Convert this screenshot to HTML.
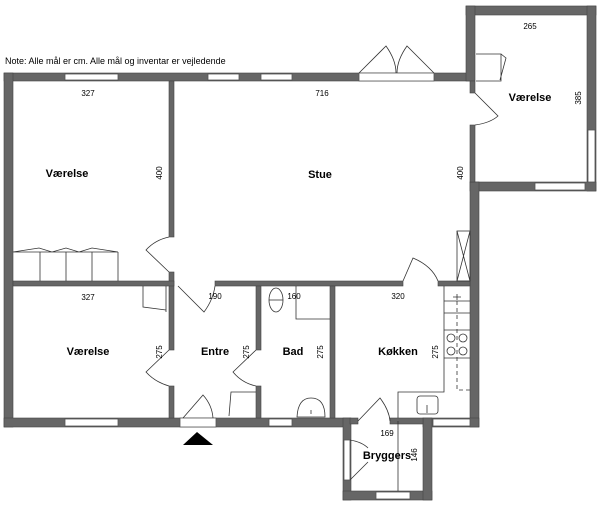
<!DOCTYPE html>
<html><head><meta charset="utf-8"><style>
html,body{margin:0;padding:0;background:#fff;width:600px;height:507px;overflow:hidden}
svg{display:block}
text{font-family:"Liberation Sans",sans-serif;fill:#000}
.l{font-size:11px;font-weight:bold}
.d{font-size:8px}
</style></head><body>
<svg width="600" height="507" viewBox="0 0 600 507">
<text x="5" y="64" style="font-size:9px">Note: Alle mål er cm. Alle mål og inventar er vejledende</text>
<g fill="#666" stroke="#444" stroke-width="0.6">
<!-- outer walls -->
<rect x="4" y="73" width="470" height="8"/>
<rect x="4" y="73" width="9" height="354"/>
<rect x="4" y="418" width="346" height="9"/>
<rect x="466" y="6" width="130" height="9"/>
<rect x="466" y="6" width="9" height="75"/>
<rect x="587" y="6" width="9" height="185"/>
<rect x="470" y="182" width="126" height="9"/>
<rect x="470" y="182" width="9" height="245"/>
<rect x="423" y="418" width="56" height="9"/>
<rect x="343" y="418" width="8" height="82"/>
<rect x="343" y="491" width="89" height="9"/>
<rect x="423" y="418" width="9" height="82"/>
<!-- interior -->
<rect x="470" y="81" width="5" height="12"/>
<rect x="470" y="125" width="5" height="57"/>
<rect x="169" y="81" width="5" height="156"/>
<rect x="169" y="272" width="5" height="78"/>
<rect x="169" y="386" width="5" height="32"/>
<rect x="13" y="281" width="161" height="5"/>
<rect x="215" y="281" width="188" height="5"/>
<rect x="438" y="281" width="32" height="5"/>
<rect x="256" y="286" width="5" height="64"/>
<rect x="256" y="386" width="5" height="32"/>
<rect x="330" y="286" width="5" height="132"/>
<rect x="350" y="418" width="8" height="6"/>
<rect x="390" y="418" width="33" height="6"/>
</g>
<!-- windows -->
<g fill="#fff" stroke="#555" stroke-width="0.8">
<rect x="65" y="74" width="53" height="6"/><rect x="208" y="74" width="31" height="6"/><rect x="261" y="74" width="31" height="6"/>
<rect x="65" y="419" width="53" height="7"/><rect x="269" y="419" width="23" height="7"/><rect x="433" y="419" width="37" height="7"/>
<rect x="376" y="492" width="34" height="7"/>
<rect x="588" y="130" width="7" height="52"/><rect x="535" y="183" width="50" height="7"/>
<rect x="180" y="418" width="36" height="9"/>
<rect x="359" y="73" width="75" height="8"/>
<rect x="344" y="440" width="6" height="40"/>
</g>
<g fill="none" stroke="#333" stroke-width="0.8">
<!-- doors -->
<path d="M359 73 L386 46 Q396 60 396 73 M434 73 L407 46 Q397 60 397 73"/>
<path d="M475 93 L498 116 Q490 123 475 125"/>
<path d="M169 272 L146 250 Q155 240 169 237"/>
<path d="M178 286 L204 312 Q213 300 215 286"/>
<path d="M169 350 L146 372 Q155 382 169 386"/>
<path d="M256 350 L233 372 Q242 383 256 386"/>
<path d="M403 281 L413 258 Q432 266 438 281"/>
<path d="M358 421 L380 398 Q389 410 390 421"/>
<path d="M350 440 Q362 442 368 448 M350 480 L368 462"/>
<path d="M183 418 L203 395 Q212 405 213 418"/>
<path d="M476 54 L501 54 L501 81 L476 81 M501 54 L506 58 L500 80"/>
<!-- closets -->
<path d="M13 252 L118 252 M40 252 L40 281 M66 252 L66 281 M92 252 L92 281 M118 252 L118 281 M13 252 L39 248 L52 252 L66 248 L79 252 L92 248 L118 252"/>
<path d="M143 286 L143 307 L166 310 M166 286 L166 312"/>
<path d="M229 416 L231 392 L256 392"/>
<!-- bad -->
<ellipse cx="276" cy="300" rx="7" ry="12"/><path d="M269 300 L283 300"/>
<path d="M296 286 L296 319 L330 319"/>
<path d="M297 417 Q298 398 311 398 Q325 398 325 417 Z"/><path d="M311 410 L311 414"/>
<!-- kitchen -->
<path d="M444 286 L444 392 L398 392 L398 418 M444 301 L470 301 M444 313 L470 313 M444 330 L470 330 M444 358 L470 358"/>
<path d="M457 301 L457 390 L470 390" stroke-dasharray="4,3"/>
<path d="M457 294 L457 300 M453 297 L461 297"/>
<rect x="457" y="231" width="13" height="50"/><path d="M457 231 L470 281 M470 231 L457 281"/>
<circle cx="451" cy="338" r="4"/><circle cx="463" cy="338" r="4"/><circle cx="451" cy="351" r="4"/><circle cx="463" cy="351" r="4"/>
<rect x="417" y="396" width="21" height="18" rx="3"/><path d="M427 405 L427 413"/>
<path d="M398 421 L398 491"/>
</g>
<polygon points="183,445 197,432 213,445" fill="#000"/>
<g class="l">
<text x="67" y="177" text-anchor="middle">Værelse</text>
<text x="320" y="178" text-anchor="middle">Stue</text>
<text x="530" y="101" text-anchor="middle">Værelse</text>
<text x="88" y="355" text-anchor="middle">Værelse</text>
<text x="215" y="355" text-anchor="middle">Entre</text>
<text x="293" y="355" text-anchor="middle">Bad</text>
<text x="398" y="355" text-anchor="middle">Køkken</text>
<text x="387" y="459" text-anchor="middle">Bryggers</text>
</g>
<g class="d" text-anchor="middle">
<text x="88" y="96">327</text>
<text x="322" y="96">716</text>
<text x="530" y="29">265</text>
<text x="88" y="300">327</text>
<text x="215" y="299">190</text>
<text x="294" y="299">160</text>
<text x="398" y="299">320</text>
<text x="387" y="436">169</text>
<text transform="translate(162,173) rotate(-90)">400</text>
<text transform="translate(463,173) rotate(-90)">400</text>
<text transform="translate(581,98) rotate(-90)">385</text>
<text transform="translate(162,352) rotate(-90)">275</text>
<text transform="translate(249,352) rotate(-90)">275</text>
<text transform="translate(323,352) rotate(-90)">275</text>
<text transform="translate(438,352) rotate(-90)">275</text>
<text transform="translate(417,455) rotate(-90)">146</text>
</g>
</svg>
</body></html>
